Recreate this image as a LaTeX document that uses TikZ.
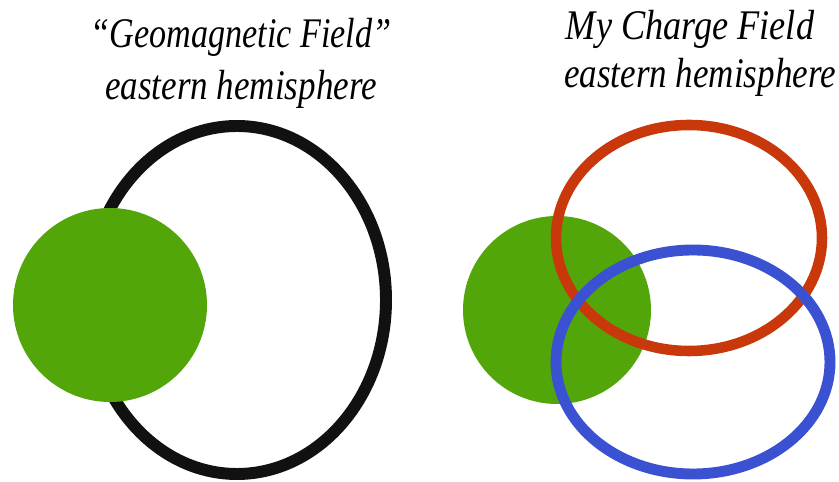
\documentclass[tikz,border=0pt]{standalone}
\usepackage{fontspec}
\setmainfont{Liberation Serif}
\usepackage{xcolor}
\usepackage{tikz}
\usetikzlibrary{positioning}
\definecolor{earthgreen}{HTML}{52A60A}
\definecolor{chargered}{HTML}{C9380B}
\definecolor{chargeblue}{HTML}{3A52D2}
\definecolor{fieldblack}{HTML}{111111}

\begin{document}
\begin{tikzpicture}[x=0.02cm, y=-0.02cm,
    titletext/.style={anchor=base, inner sep=0pt, font=\fontsize{24}{28}\selectfont\itshape},
    earth/.style={fill=earthgreen, draw=none},
    fieldloop/.style={line width=#1}]
    \useasboundingbox (0,0) rectangle (839,482);

    % left: geomagnetic field
    \node[titletext] (geotitle) at (241,48) {\scalebox{0.81}[1]{“Geomagnetic Field”}};
    \node[titletext] (geosub) at (241,100) {\scalebox{0.83}[1]{eastern hemisphere}};
    \draw[fieldloop=6.8pt, draw=fieldblack] (237,300) ellipse [x radius=149, y radius=174];
    \fill[earth] (110,305) circle [radius=97];

    % right: charge field
    \node[titletext] (chgtitle) at (690,40) {\scalebox{0.86}[1]{My Charge Field}};
    \node[titletext] (chgsub) at (700,88) {\scalebox{0.83}[1]{eastern hemisphere}};
    \fill[earth] (557,310) circle [radius=94];
    \draw[fieldloop=6pt, draw=chargered] (689,238) ellipse [x radius=133, y radius=113];
    \draw[fieldloop=6.2pt, draw=chargeblue] (693,362) ellipse [x radius=137, y radius=112];
\end{tikzpicture}
\end{document}
